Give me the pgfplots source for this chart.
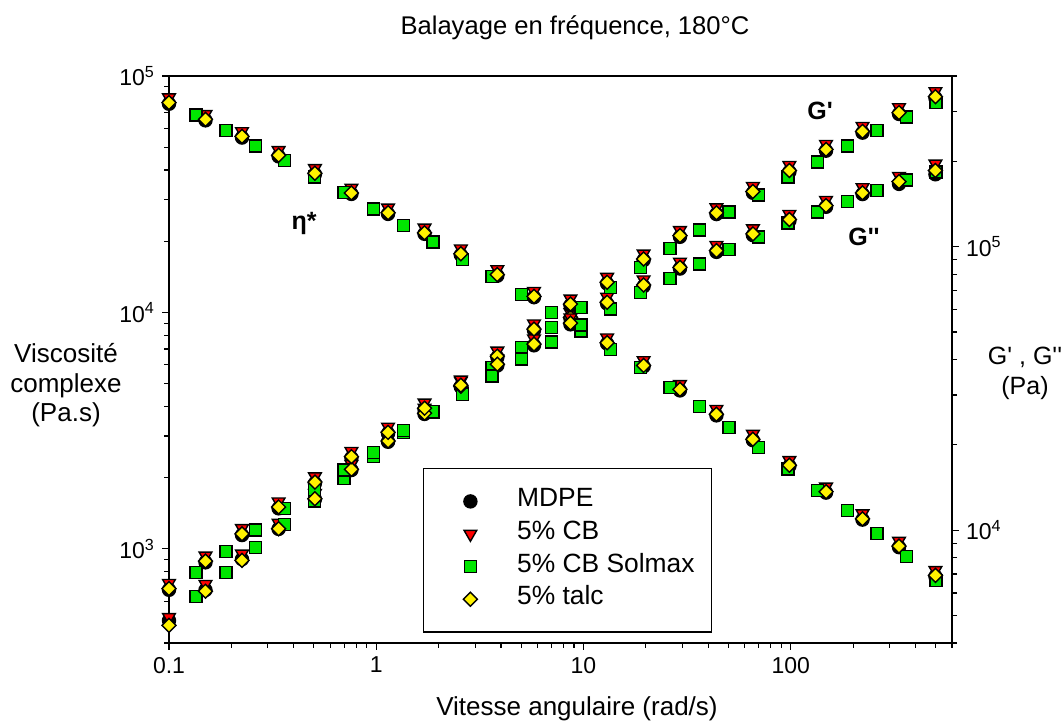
\documentclass[border=0pt]{standalone}
\usepackage{fontspec}
\setmainfont{Liberation Sans}[Ligatures=TeXOff]
\usepackage{pgfplots}
\pgfplotsset{compat=1.18}
\definecolor{mgreen}{RGB}{0,230,0}
\pgfplotsset{
  stmdpe/.style={only marks, mark=*, mark size=3.25pt, mark options={fill=black, draw=black, line width=0.7pt}},
  stcb/.style={only marks, mark=triangle*, mark size=3.67pt, mark options={rotate=180, fill=red, draw=black, line width=0.7pt}},
  stsol/.style={only marks, mark=square*, mark size=3pt, mark options={fill=mgreen, draw=black, line width=0.7pt}},
  sttalc/.style={only marks, mark=square*, mark size=2.47pt, mark options={rotate=45, fill=yellow, draw=black, line width=0.7pt}},
}
\begin{document}
\begin{tikzpicture}
\path[use as bounding box] (-84.5pt,-39.5pt) rectangle (447pt,321.5pt);
\begin{axis}[scale only axis, width=391.5pt, height=283.5pt,
  at={(0pt,0pt)}, anchor=south west,
  xmode=log, ymode=log, xmin=0.1, xmax=600, ymin=400, ymax=100000,
  clip=false, tick align=outside,
  major tick length=3.5pt, minor tick length=2.5pt,
  every tick/.style={black, line width=0.6pt},
  axis line style={line width=0.9pt},
  tick label style={font=\fontsize{11.5}{13}\selectfont},
  xtick pos=left, ytick pos=left,
  xtick={0.1,1,10,100}, xticklabels={0.1,1,10,100},
  minor xtick={0.2,0.3,0.4,0.5,0.6,0.7,0.8,0.9,2,3,4,5,6,7,8,9,20,30,40,50,60,70,80,90,200,300,400,500,600},
  ytick={1000,10000,100000}, yticklabels={10\textsuperscript{3},10\textsuperscript{4},10\textsuperscript{5}},
  minor ytick={400,500,600,700,800,900,2000,3000,4000,5000,6000,7000,8000,9000,20000,30000,40000,50000,60000,70000,80000,90000},
  legend image code/.code={\path (-16.5pt,0pt) (16.5pt,0pt); \draw[#1] plot coordinates {(0pt,0pt)};},
  legend style={at={(0.3244,0.3086)}, anchor=north west, draw=black, line width=0.7pt,
     font=\fontsize{13.2}{15.5}\selectfont, inner xsep=6.5pt, inner ysep=9.6pt,
     row sep=2.8pt, column sep=4.5pt,
     nodes={inner sep=2pt, text height=0.75em, text depth=0.2em}},
  legend cell align=left,
]
\addplot[stmdpe] coordinates {(0.1,76300)(0.15,64900)(0.225,54900)(0.338,45700)(0.506,38400)(0.759,31700)(1.14,26100)(1.71,21500)(2.56,17500)(3.84,14300)(5.77,11600)(8.65,9430)(13.0,7380)(19.5,5910)(29.2,4680)(43.8,3670)(65.7,2880)(98.5,2240)(148,1730)(222,1330)(333,1017)(499,765)};
\addlegendentry{MDPE}
\addplot[stcb] coordinates {(0.1,81000)(0.15,68900)(0.225,58300)(0.338,48500)(0.506,40700)(0.759,33600)(1.14,27700)(1.71,22800)(2.56,18600)(3.84,15200)(5.77,12300)(8.65,10000)(13.0,7820)(19.5,6270)(29.2,4970)(43.8,3900)(65.7,3060)(98.5,2370)(148,1830)(222,1410)(333,1080)(499,812)};
\addlegendentry{5\% CB}
\addplot[stsol] coordinates {(0.135,68460)(0.188,58790)(0.261,50660)(0.362,43790)(0.503,37370)(0.699,32180)(0.971,27390)(1.35,23350)(1.88,19880)(2.61,16740)(3.62,14230)(5.03,11910)(6.99,9971)(9.71,8337)(13.5,6980)(18.8,5843)(26.1,4811)(36.2,4001)(50.3,3262)(69.9,2687)(97.1,2176)(135,1762)(188,1451)(261,1165)(362,931)(503,735)};
\addlegendentry{5\% CB Solmax}
\addplot[sttalc] coordinates {(0.1,77100)(0.15,65600)(0.225,55500)(0.338,46200)(0.506,38800)(0.759,32000)(1.14,26400)(1.71,21700)(2.56,17700)(3.84,14450)(5.77,11700)(8.65,9530)(13.0,7450)(19.5,5970)(29.2,4730)(43.8,3710)(65.7,2910)(98.5,2260)(148,1745)(222,1340)(333,1027)(499,773)};
\addlegendentry{5\% talc}
\end{axis}
\begin{axis}[scale only axis, width=391.5pt, height=283.5pt,
  at={(0pt,0pt)}, anchor=south west,
  xmode=log, ymode=log, xmin=0.1, xmax=600, ymin=4000, ymax=400000,
  clip=false, tick align=outside,
  major tick length=3.5pt, minor tick length=2.5pt,
  every tick/.style={black, line width=0.6pt},
  axis line style={line width=0.9pt},
  tick label style={font=\fontsize{11.5}{13}\selectfont},
  axis x line=none, axis y line*=right, ytick pos=right,
  ytick={10000,100000}, yticklabels={10\textsuperscript{4},10\textsuperscript{5}},
  minor ytick={4000,5000,6000,7000,8000,9000,20000,30000,40000,50000,60000,70000,80000,90000,200000,300000,400000},
]
\addplot[stmdpe] coordinates {(0.1,4800)(0.15,6150)(0.225,7900)(0.338,10100)(0.506,12850)(0.759,16300)(1.14,20500)(1.71,25700)(2.56,32000)(3.84,40700)(5.77,50700)(8.65,62100)(13.0,74100)(19.5,89600)(29.2,108300)(43.8,130300)(65.7,154900)(98.5,183700)(148,218000)(222,252400)(333,293800)(499,334700)};
\addplot[stmdpe] coordinates {(0.1,6160)(0.15,7700)(0.225,9610)(0.338,11940)(0.506,14630)(0.759,17990)(1.14,21920)(1.71,26650)(2.56,32130)(3.84,38100)(5.77,44870)(8.65,53210)(13.0,62980)(19.5,72490)(29.2,83710)(43.8,95830)(65.7,109800)(98.5,123400)(148,138200)(222,153300)(333,166500)(499,180000)};
\addplot[stcb] coordinates {(0.1,4930)(0.15,6450)(0.225,8250)(0.338,10600)(0.506,13500)(0.759,17100)(1.14,21500)(1.71,27000)(2.56,33600)(3.84,42900)(5.77,53500)(8.65,65500)(13.0,78100)(19.5,94400)(29.2,114200)(43.8,137400)(65.7,163400)(98.5,193800)(148,229900)(222,266100)(333,309900)(499,353000)};
\addplot[stcb] coordinates {(0.1,6500)(0.15,8120)(0.225,10150)(0.338,12600)(0.506,15450)(0.759,18990)(1.14,23140)(1.71,28130)(2.56,33910)(3.84,40230)(5.77,47360)(8.65,56170)(13.0,66480)(19.5,76510)(29.2,88370)(43.8,101200)(65.7,115900)(98.5,130200)(148,145900)(222,161800)(333,177300)(499,196000)};
\addplot[stsol] coordinates {(0.135,5846)(0.188,7105)(0.261,8667)(0.362,10470)(0.503,12660)(0.699,15190)(0.971,18170)(1.35,22140)(1.88,26060)(2.61,30410)(3.62,37490)(5.03,44110)(6.99,51900)(9.71,61080)(13.5,71880)(18.8,84560)(26.1,98700)(36.2,114600)(50.3,132300)(69.9,152300)(97.1,175900)(135,198700)(188,226300)(261,257000)(362,286600)(503,322000)};
\addplot[stsol] coordinates {(0.135,7105)(0.188,8430)(0.261,10000)(0.362,11900)(0.503,13930)(0.699,16290)(0.971,18770)(1.35,22500)(1.88,26270)(2.61,30170)(3.62,35010)(5.03,40110)(6.99,46170)(9.71,52880)(13.5,60250)(18.8,69020)(26.1,77330)(36.2,86880)(50.3,97590)(69.9,108000)(97.1,121300)(135,132300)(188,144200)(261,157700)(362,172100)(503,183200)};
\addplot[sttalc] coordinates {(0.1,4617)(0.15,6090)(0.225,7830)(0.338,10110)(0.506,12910)(0.759,16390)(1.14,20630)(1.71,25850)(2.56,32190)(3.84,41100)(5.77,51210)(8.65,62730)(13.0,74840)(19.5,90480)(29.2,109400)(43.8,131600)(65.7,156500)(98.5,185600)(148,220200)(222,254900)(333,296800)(499,338100)};
\addplot[sttalc] coordinates {(0.1,6223)(0.15,7775)(0.225,9712)(0.338,12060)(0.506,14780)(0.759,18170)(1.14,22140)(1.71,26920)(2.56,32450)(3.84,38500)(5.77,45320)(8.65,53750)(13.0,63620)(19.5,73220)(29.2,84560)(43.8,96800)(65.7,110900)(98.5,124600)(148,139600)(222,154800)(333,169700)(499,185600)};
\end{axis}
\node[anchor=base, font=\fontsize{12.8}{15}\selectfont] at (203pt,304pt) {Balayage en fréquence, 180°C};
\node[anchor=base, font=\fontsize{13}{15}\selectfont] at (204pt,-36pt) {Vitesse angulaire (rad/s)};
\node[anchor=base, font=\fontsize{13}{15}\selectfont] at (-51.5pt,140.35pt) {Viscosité};
\node[anchor=base, font=\fontsize{13}{15}\selectfont] at (-51.5pt,125.15pt) {complexe};
\node[anchor=base, font=\fontsize{13}{15}\selectfont] at (-51.5pt,110.65pt) {(Pa.s)};
\node[anchor=base, font=\fontsize{12.5}{15}\selectfont] at (428pt,139pt) {G' , G''};
\node[anchor=base, font=\fontsize{12.5}{15}\selectfont] at (428pt,124pt) {(Pa)};
\node[font=\bfseries\fontsize{12.5}{15}\selectfont] at (67.5pt,210pt) {η*};
\node[font=\bfseries\fontsize{12.5}{15}\selectfont] at (325.5pt,266pt) {G'};
\node[font=\bfseries\fontsize{12.5}{15}\selectfont] at (347.5pt,203pt) {G''};
\end{tikzpicture}
\end{document}
